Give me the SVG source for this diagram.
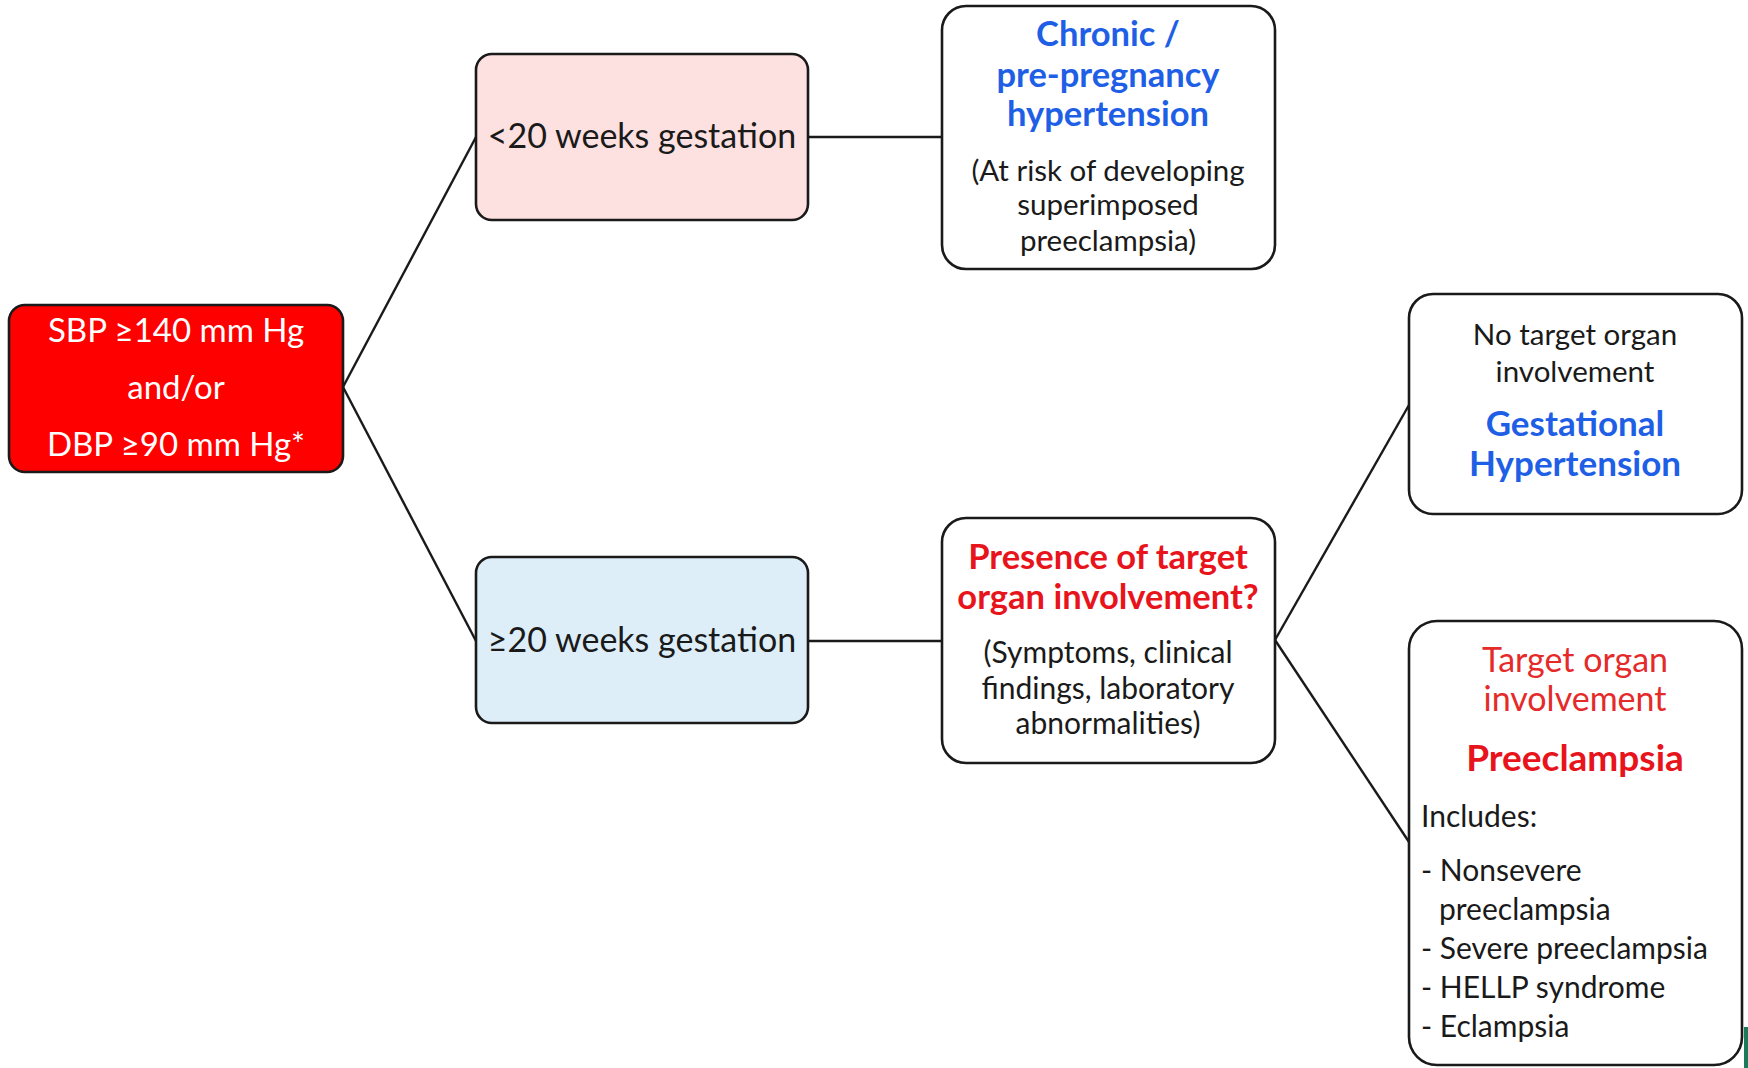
<svg xmlns="http://www.w3.org/2000/svg" width="1748" height="1068" viewBox="0 0 1748 1068">
<defs>
<style>
.box{stroke:#1a1a1a;stroke-width:2.6}
.t{font-family:Lato,"Open Sans","Liberation Sans",sans-serif;text-anchor:middle;fill:#1a1a1a}
.w{fill:#ffffff}
.b{font-weight:bold;fill:#1f5fe6}
.r{font-weight:bold;fill:#e8141c}
.rr{fill:#e52a2a}
.l{text-anchor:start}
.conn{stroke:#1a1a1a;stroke-width:2.4;fill:none}
</style>
</defs>
<rect width="1748" height="1068" fill="#ffffff"/>
<g id="connectors">
<line class="conn" x1="343" y1="387" x2="476" y2="137"/>
<line class="conn" x1="343" y1="387" x2="476" y2="641"/>
<line class="conn" x1="808" y1="137" x2="942" y2="137"/>
<line class="conn" x1="808" y1="641" x2="942" y2="641"/>
<line class="conn" x1="1275" y1="640" x2="1409" y2="405"/>
<line class="conn" x1="1275" y1="640" x2="1409" y2="842"/>
</g>
<g id="bp">
<rect class="box" x="9" y="305" width="334" height="167" rx="16" fill="#ff0000"/>
<text class="t w" x="176" y="342" font-size="33">SBP ≥140 mm Hg</text>
<text class="t w" x="176" y="399" font-size="33">and/or</text>
<text class="t w" x="176" y="456" font-size="33">DBP ≥90 mm Hg*</text>
</g>
<g id="lt20">
<rect class="box" x="476" y="54" width="332" height="166" rx="16" fill="#fde0e0"/>
<text class="t" x="642" y="148" font-size="34">&lt;20 weeks gestation</text>
</g>
<g id="ge20">
<rect class="box" x="476" y="557" width="332" height="166" rx="16" fill="#ddeef9"/>
<text class="t" x="642" y="652" font-size="34">≥20 weeks gestation</text>
</g>
<g id="chronic">
<rect class="box" x="942" y="6" width="333" height="263" rx="24" fill="#ffffff"/>
<text class="t b" x="1108" y="46" font-size="34.5">Chronic /</text>
<text class="t b" x="1108" y="87" font-size="34.5">pre-pregnancy</text>
<text class="t b" x="1108" y="126" font-size="34.5">hypertension</text>
<text class="t" x="1108" y="181" font-size="29.5">(At risk of developing</text>
<text class="t" x="1108" y="215" font-size="29.5">superimposed</text>
<text class="t" x="1108" y="251" font-size="29.5">preeclampsia)</text>
</g>
<g id="presence">
<rect class="box" x="942" y="518" width="333" height="245" rx="24" fill="#ffffff"/>
<text class="t r" x="1108" y="569" font-size="34.5">Presence of target</text>
<text class="t r" x="1108" y="609" font-size="34.5">organ involvement?</text>
<text class="t" x="1108" y="663" font-size="30">(Symptoms, clinical</text>
<text class="t" x="1108" y="699" font-size="30">findings, laboratory</text>
<text class="t" x="1108" y="734" font-size="30">abnormalities)</text>
</g>
<g id="gestational">
<rect class="box" x="1409" y="294" width="333" height="220" rx="24" fill="#ffffff"/>
<text class="t" x="1575" y="345" font-size="29.5">No target organ</text>
<text class="t" x="1575" y="382" font-size="29.5">involvement</text>
<text class="t b" x="1575" y="436" font-size="35">Gestational</text>
<text class="t b" x="1575" y="476" font-size="35">Hypertension</text>
</g>
<g id="preeclampsia">
<rect class="box" x="1409" y="621" width="333" height="444" rx="28" fill="#ffffff"/>
<text class="t rr" x="1575" y="672" font-size="34">Target organ</text>
<text class="t rr" x="1575" y="711" font-size="34">involvement</text>
<text class="t r" x="1575" y="771" font-size="37">Preeclampsia</text>
<text class="t l" x="1421" y="827" font-size="30">Includes:</text>
<text class="t l" x="1421" y="881" font-size="30">- Nonsevere</text>
<text class="t l" x="1439" y="920" font-size="30">preeclampsia</text>
<text class="t l" x="1421" y="959" font-size="30">- Severe preeclampsia</text>
<text class="t l" x="1421" y="998" font-size="30">- HELLP syndrome</text>
<text class="t l" x="1421" y="1037" font-size="30">- Eclampsia</text>
</g>
<rect x="1744" y="1027" width="4" height="41" fill="#1a7a5a"/>
</svg>
